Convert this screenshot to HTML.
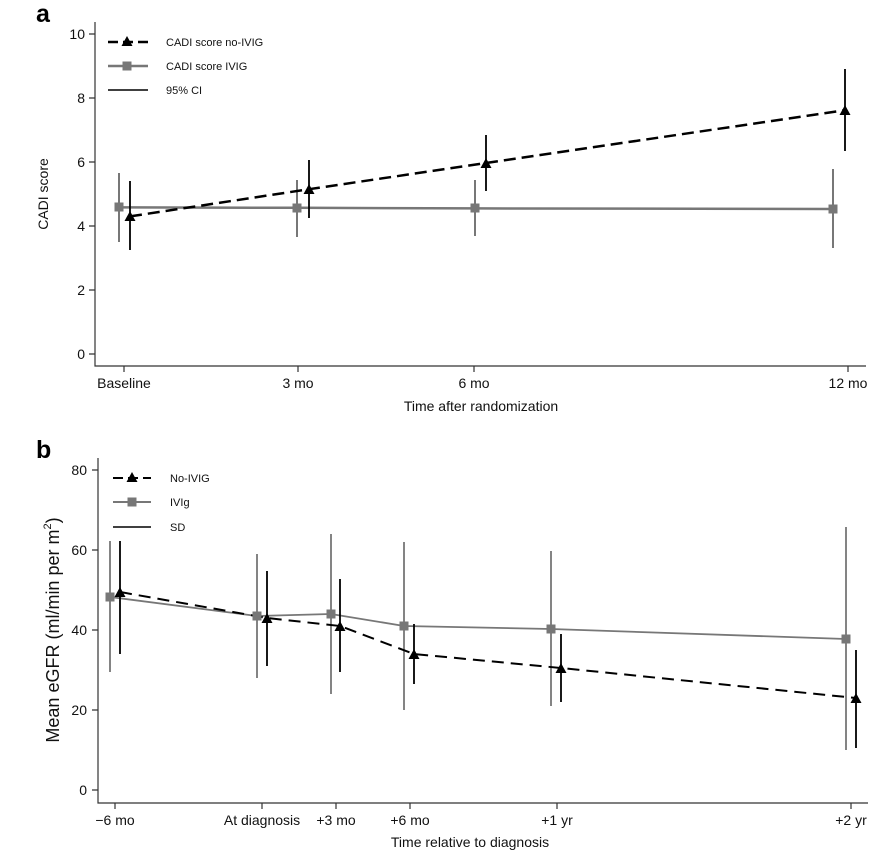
<!DOCTYPE html>
<html><head><style>body{margin:0;background:#fff}svg{display:block}text{font-family:"Liberation Sans",Arial,sans-serif}</style></head>
<body>
<svg width="891" height="854" viewBox="0 0 891 854" xmlns="http://www.w3.org/2000/svg">
<defs>
<path id="tri" d="M0,-6 L5.5,4 L-5.5,4 Z" fill="#000"/>
<rect id="sq" x="-4.5" y="-4.5" width="9" height="9" fill="#777"/>
</defs>
<!-- Panel a -->
<text x="36" y="22" font-size="25" font-weight="bold">a</text>
<g stroke="#333" stroke-width="1.2" fill="none">
<path d="M95,22 V366 H866"/>
<path d="M89,34 H95 M89,98 H95 M89,162 H95 M89,226 H95 M89,290 H95 M89,354 H95"/>
<path d="M124,366 V372 M298,366 V372 M474,366 V372 M848,366 V372"/>
</g>
<g font-size="14" text-anchor="end" fill="#111">
<text x="85" y="39">10</text><text x="85" y="103">8</text><text x="85" y="167">6</text><text x="85" y="231">4</text><text x="85" y="295">2</text><text x="85" y="359">0</text>
</g>
<g font-size="14" text-anchor="middle" fill="#111">
<text x="124" y="388">Baseline</text><text x="298" y="388">3 mo</text><text x="474" y="388">6 mo</text><text x="848" y="388">12 mo</text>
<text x="481" y="411">Time after randomization</text>
<text transform="translate(48,194) rotate(-90)">CADI score</text>
</g>
<!-- legend a -->
<g stroke-width="2.5">
<path d="M108,42 H148" stroke="#000" stroke-dasharray="10,5"/>
<path d="M108,66 H148" stroke="#777"/>
<path d="M108,90 H148" stroke="#000" stroke-width="1.5"/>
</g>
<use href="#tri" x="127" y="42"/><use href="#sq" x="127" y="66"/>
<g font-size="11" fill="#111"><text x="166" y="46">CADI score no-IVIG</text><text x="166" y="70">CADI score IVIG</text><text x="166" y="94">95% CI</text></g>
<!-- series a -->
<g stroke="#777" stroke-width="2">
<path d="M119,242 V173 M297,237 V180 M475,236 V180 M833,248 V169"/>
<path d="M119,207.4 L297,207.8 L475,208.4 L833,209" fill="none" stroke-width="2.5"/>
</g>
<g stroke="#000" stroke-width="1.8">
<path d="M130,250 V181 M309,218 V160 M486,191 V135 M845,151 V69"/>
<path d="M130,216.4 L309,189.2 L486,163 L845,110.2" fill="none" stroke-width="2.5" stroke-dasharray="12,6"/>
</g>
<use href="#sq" x="119" y="207"/><use href="#sq" x="297" y="208"/><use href="#sq" x="475" y="208"/><use href="#sq" x="833" y="209"/>
<use href="#tri" x="130" y="217"/><use href="#tri" x="309" y="190"/><use href="#tri" x="486" y="164"/><use href="#tri" x="845" y="111"/>

<!-- Panel b -->
<text x="36" y="458" font-size="25" font-weight="bold">b</text>
<g stroke="#333" stroke-width="1.2" fill="none">
<path d="M98,458 V803 H868"/>
<path d="M92,470 H98 M92,550 H98 M92,630 H98 M92,710 H98 M92,790 H98"/>
<path d="M115,803 V809 M262,803 V809 M336,803 V809 M410,803 V809 M557,803 V809 M851,803 V809"/>
</g>
<g font-size="14" text-anchor="end" fill="#111">
<text x="87" y="475">80</text><text x="87" y="555">60</text><text x="87" y="635">40</text><text x="87" y="715">20</text><text x="87" y="795">0</text>
</g>
<g font-size="14" text-anchor="middle" fill="#111">
<text x="115" y="825">−6 mo</text><text x="262" y="825">At diagnosis</text><text x="336" y="825">+3 mo</text><text x="410" y="825">+6 mo</text><text x="557" y="825">+1 yr</text><text x="851" y="825">+2 yr</text>
<text x="470" y="847">Time relative to diagnosis</text>
</g>
<text transform="translate(59,630) rotate(-90)" font-size="18" text-anchor="middle" fill="#111">Mean eGFR (ml/min per m<tspan dy="-8" font-size="11">2</tspan><tspan dy="8">)</tspan></text>
<!-- legend b -->
<g stroke-width="2">
<path d="M113,478 H151" stroke="#000" stroke-dasharray="10,5"/>
<path d="M113,502 H151" stroke="#777"/>
<path d="M113,527 H151" stroke="#000" stroke-width="1.5"/>
</g>
<use href="#tri" x="132" y="478"/><use href="#sq" x="132" y="502"/>
<g font-size="11" fill="#111"><text x="170" y="482">No-IVIG</text><text x="170" y="506">IVIg</text><text x="170" y="531">SD</text></g>
<!-- series b -->
<g stroke="#777" stroke-width="1.8">
<path d="M110,672 V541 M257,678 V554 M331,694 V534 M404,710 V542 M551,706 V551 M846,750 V527"/>
<path d="M110,597 L257,616 L331,614 L404,626 L551,629 L846,639" fill="none"/>
</g>
<g stroke="#000" stroke-width="1.8">
<path d="M120,654 V541 M267,666 V571 M340,672 V579 M414,684 V624 M561,702 V634 M856,748 V650"/>
<path d="M120,592 L267,618 L340,626 L414,654 L561,668 L856,698" fill="none" stroke-width="2" stroke-dasharray="12,7"/>
</g>
<use href="#sq" x="110" y="597"/><use href="#sq" x="257" y="616"/><use href="#sq" x="331" y="614"/><use href="#sq" x="404" y="626"/><use href="#sq" x="551" y="629"/><use href="#sq" x="846" y="639"/>
<use href="#tri" x="120" y="593"/><use href="#tri" x="267" y="619"/><use href="#tri" x="340" y="627"/><use href="#tri" x="414" y="655"/><use href="#tri" x="561" y="669"/><use href="#tri" x="856" y="699"/>
</svg>
</body></html>
